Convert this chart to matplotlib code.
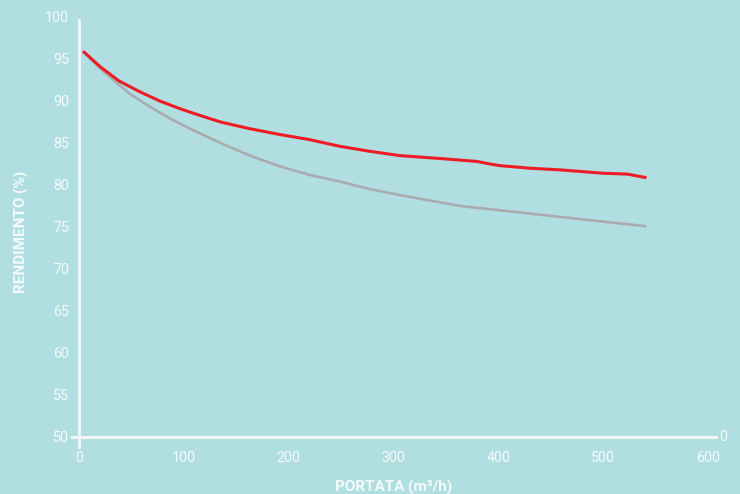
import matplotlib
matplotlib.use("Agg")
import matplotlib.pyplot as plt

plt.rcParams['font.family'] = ['Roboto', 'DejaVu Sans']

# values
red_x = [5, 20, 38, 58, 77, 96, 110, 135, 163, 192, 220, 249, 278, 306, 350, 380, 392, 402, 430, 459, 500, 523, 540]
red_y = [95.8, 94.1, 92.4, 91.1, 90.0, 89.1, 88.5, 87.5, 86.7, 86.0, 85.4, 84.6, 84.0, 83.5, 83.1, 82.8, 82.5, 82.3, 82.0, 81.8, 81.4, 81.3, 80.9]

gray_x = [5, 20, 30, 49, 68, 87, 106, 135, 163, 192, 220, 249, 278, 306, 364, 459, 540]
gray_y = [95.8, 93.9, 92.8, 90.8, 89.3, 87.9, 86.7, 85.0, 83.5, 82.2, 81.2, 80.4, 79.5, 78.8, 77.5, 76.2, 75.1]

x_ticks = [0, 100, 200, 300, 400, 500, 600]
y_ticks = [50, 55, 60, 65, 70, 75, 80, 85, 90, 95, 100]

bg = '#b1dee1'
txt = '#f5fbfb'

fig = plt.figure(figsize=(7.4, 4.94), dpi=100, facecolor=bg)
ax = fig.add_axes([0.0926, 0.0814, 0.8923, 0.9012], facecolor=bg)

ax.plot(gray_x, gray_y, color='#a9acae', linewidth=1.9, solid_joinstyle='round', zorder=2)
ax.plot(red_x, red_y, color='#ee1c24', linewidth=2.2, solid_joinstyle='round', zorder=3)

ax.set_xlim(-10, 620)
ax.set_ylim(48, 101)
ax.set_xticks(x_ticks)
ax.set_yticks(y_ticks)
ax.tick_params(axis='both', length=0, colors=txt, labelsize=10.3)
ax.tick_params(axis='x', pad=10)
ax.tick_params(axis='y', pad=7)

for s in ['top', 'right']:
    ax.spines[s].set_visible(False)
ax.spines['left'].set_position(('data', 0))
ax.spines['bottom'].set_position(('data', 50))
ax.spines['left'].set_bounds(48.8, 99.6)
ax.spines['bottom'].set_bounds(-7, 608)
for s in ['left', 'bottom']:
    ax.spines[s].set_color('#f2f5f5')
    ax.spines[s].set_linewidth(2.2)

# right-hand axis zero label
ax.text(610.5, 50, '0', color=txt, fontsize=10.3, ha='left', va='center')

ax.set_xlabel('PORTATA (m³/h)', color=txt, fontsize=11, fontweight='bold')
ax.set_ylabel('RENDIMENTO (%)', color=txt, fontsize=11, fontweight='bold')
ax.xaxis.set_label_coords(310 / 630, -0.059)
ax.yaxis.set_label_coords(-0.06, 0.498)

fig.savefig('out.png', dpi=100, facecolor=bg)
